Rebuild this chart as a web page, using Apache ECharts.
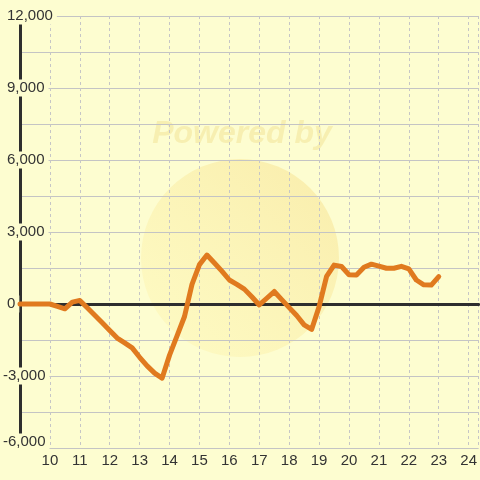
<!DOCTYPE html>
<html>
<head>
<meta charset="utf-8">
<script src="https://cdn.jsdelivr.net/npm/echarts@6/dist/echarts.min.js"></script>
<style>
html,body{margin:0;padding:0;background:#fdfdd0;}
#c{width:480px;height:480px;}
</style>
</head>
<body>
<div id="c"></div>
<script>
// Data
const hours = [9, 9.25, 9.5, 9.75, 10, 10.25, 10.5, 10.75, 11, 11.25, 11.5, 11.75,
  12, 12.25, 12.5, 12.75, 13, 13.25, 13.5, 13.75, 14, 14.25, 14.5, 14.75,
  15, 15.25, 15.5, 15.75, 16, 16.25, 16.5, 16.75, 17, 17.25, 17.5, 17.75,
  18, 18.25, 18.5, 18.75, 19, 19.25, 19.5, 19.75, 20, 20.25, 20.5, 20.75,
  21, 21.25, 21.5, 21.75, 22, 22.25, 22.5, 22.75, 23];
const values = [0, 0, 0, 0, 0, -100, -200, 80, 150, -160, -470, -780,
  -1100, -1420, -1620, -1830, -2220, -2580, -2880, -3090, -2130, -1330, -520, 820,
  1640, 2040, 1710, 1370, 1000, 820, 620, 300, -40, 240, 520, 180,
  -150, -480, -870, -1060, -110, 1150, 1620, 1560, 1220, 1210, 1530, 1660,
  1580, 1490, 1490, 1570, 1460, 1000, 800, 790, 1140];
const xTicks = [10, 11, 12, 13, 14, 15, 16, 17, 18, 19, 20, 21, 22, 23, 24];
const yTicks = [-6000, -3000, 0, 3000, 6000, 9000, 12000];
const watermarkText = 'Powered by';

const BG = '#fdfdd0';
const FONT = '"Liberation Sans", Arial, sans-serif';
const chart = echarts.init(document.getElementById('c'), null, {renderer: 'canvas'});

const seriesData = hours.map((h, i) => [h, values[i]]);

chart.setOption({
  backgroundColor: BG,
  animation: false,
  textStyle: {fontFamily: FONT},
  graphic: [
    {
      type: 'circle', z: -5, silent: true,
      shape: {cx: 240, cy: 258, r: 99},
      style: {
        fill: new echarts.graphic.LinearGradient(1, 0, 0, 1, [
          {offset: 0, color: 'rgba(244,214,120,0.42)'},
          {offset: 1, color: 'rgba(255,246,170,0.32)'}
        ])
      }
    },
    {
      type: 'text', z: -5, silent: true,
      x: 242, y: 134,
      style: {
        text: watermarkText, fill: 'rgba(240,222,140,0.45)',
        font: 'italic bold 32px ' + FONT,
        align: 'center', verticalAlign: 'middle'
      }
    }
  ],
  grid: {left: 20, right: 0, top: 16, bottom: 32, containLabel: false},
  xAxis: [
    {
      type: 'value', min: 9, max: 24.3333, interval: 1,
      axisLine: {show: false, onZero: false},
      axisTick: {show: false},
      axisLabel: {
        fontSize: 15, color: '#333', margin: 5, fontFamily: FONT,
        showMinLabel: false, showMaxLabel: false,
        formatter: v => (xTicks.indexOf(v) >= 0 ? String(v) : '')
      },
      splitLine: {show: true, lineStyle: {color: '#c6c6c6', type: [3, 3], width: 1}}
    },
    {
      type: 'value', min: 9, max: 24.3333, interval: 1, position: 'bottom',
      axisLine: {show: true, onZero: true, lineStyle: {color: '#2e2e2e', width: 3}},
      axisTick: {show: false},
      axisLabel: {show: false},
      splitLine: {show: false}
    }
  ],
  yAxis: {
    type: 'value', min: -6000, max: 12000, interval: 3000,
    axisLine: {show: true, onZero: false, lineStyle: {color: '#2e2e2e', width: 3}},
    axisTick: {show: false},
    minorTick: {show: false, splitNumber: 2},
    minorSplitLine: {show: true, lineStyle: {color: '#c4c4c4', width: 1}},
    splitLine: {show: true, lineStyle: {color: '#c4c4c4', width: 1}},
    axisLabel: {
      align: 'left', margin: 17, color: '#333', fontSize: 15, fontFamily: FONT,
      backgroundColor: BG, padding: [1, 4, 1, 0],
      formatter: v => {
        if (yTicks.indexOf(v) < 0) return '';
        const s = echarts.format.addCommas(v);
        if (v === -6000) return '{b|' + s + '}';
        return v < 0 ? '{n|' + s + '}' : '{p|' + s + '}';
      },
      rich: {
        p: {fontSize: 15, color: '#333', fontFamily: FONT, padding: [0, 0, 0, 4]},
        n: {fontSize: 15, color: '#333', fontFamily: FONT},
        b: {fontSize: 15, color: '#333', fontFamily: FONT, padding: [0, 0, 12, 0]}
      }
    }
  },
  series: [{
    type: 'line',
    data: seriesData,
    xAxisIndex: 0,
    showSymbol: false,
    symbol: 'none',
    smooth: false,
    z: 5,
    lineStyle: {color: '#e07a1f', width: 5, join: 'round', cap: 'round'}
  }]
});
</script>
</body>
</html>
